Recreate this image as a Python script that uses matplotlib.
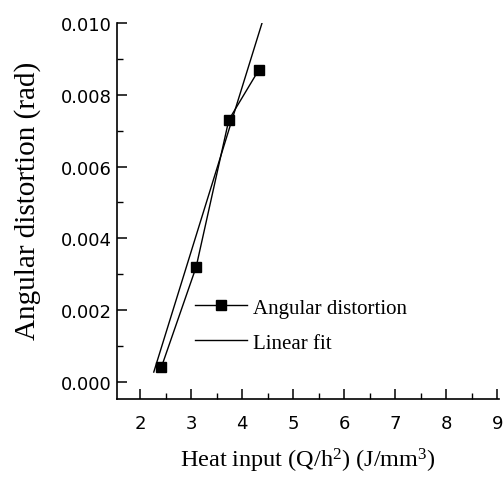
import numpy as np
import matplotlib
matplotlib.use('Agg')
import matplotlib.pyplot as plt
from matplotlib.ticker import MultipleLocator

# measured data
heat_input = [2.42, 3.10, 3.74, 4.33]
distortion = [0.00041, 0.0032, 0.0073, 0.0087]

# linear fit line end points
fit_x = [2.27, 4.39]
fit_y = [0.00027, 0.0100]

x_ticks = [2, 3, 4, 5, 6, 7, 8, 9]
y_ticks = [0.000, 0.002, 0.004, 0.006, 0.008, 0.010]

serif = 'Liberation Serif'
plt.rcParams['mathtext.fontset'] = 'custom'
plt.rcParams['mathtext.rm'] = serif
plt.rcParams['mathtext.it'] = serif + ':italic'

fig = plt.figure(figsize=(5.03, 4.85), dpi=100)
ax = fig.add_axes([0.2326, 0.1753, 0.7594, 0.7752])

ax.plot(heat_input, distortion, color='black', linewidth=1.0,
        marker='s', markersize=7, label='Angular distortion')
ax.plot(fit_x, fit_y, color='black', linewidth=1.0, label='Linear fit')

ax.set_xlim(1.55, 9.03)
ax.set_ylim(-0.00048, 0.0100)
ax.set_xticks(x_ticks)
ax.set_yticks(y_ticks)
ax.set_yticklabels(['%.3f' % v for v in y_ticks])
ax.xaxis.set_minor_locator(MultipleLocator(0.5))
ax.yaxis.set_minor_locator(MultipleLocator(0.001))

ax.spines['top'].set_visible(False)
ax.spines['right'].set_visible(False)
ax.spines['left'].set_linewidth(1.2)
ax.spines['bottom'].set_linewidth(1.2)

ax.tick_params(which='major', direction='in', length=7, width=1.1,
               labelsize=13)
ax.tick_params(axis='y', which='major', pad=4)
ax.tick_params(axis='x', which='major', pad=11)
ax.tick_params(which='minor', direction='in', length=4, width=1.0)
for lab in ax.get_xticklabels() + ax.get_yticklabels():
    lab.set_family('DejaVu Sans')

ax.set_xlabel(r'Heat input (Q/h$^\mathrm{2}$) (J/mm$^\mathrm{3}$)',
              fontsize=17.5, family=serif, labelpad=10)
ax.set_ylabel('Angular distortion (rad)', fontsize=21, family=serif)
ax.yaxis.set_label_coords(-0.2, 0.53)

leg = ax.legend(loc='upper left', bbox_to_anchor=(195 / 503, 1 - 299 / 485),
                bbox_transform=fig.transFigure, frameon=False,
                prop={'family': serif, 'size': 15}, handlelength=2.5,
                handletextpad=0.3, labelspacing=0.74, borderpad=0,
                borderaxespad=0)

fig.savefig('out.png', dpi=100)
